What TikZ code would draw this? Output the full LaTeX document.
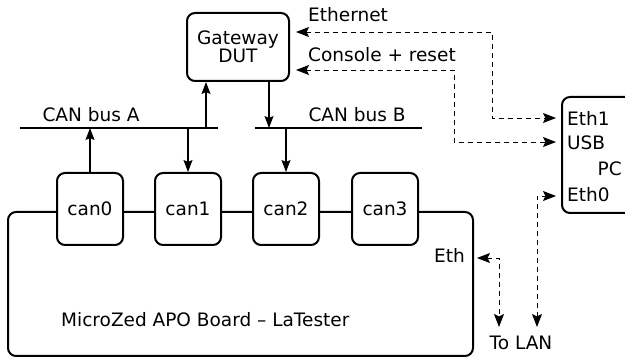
\documentclass[tikz,border=0pt]{standalone}
\usepackage{fontspec}
\setmainfont{DejaVu Sans}
\usetikzlibrary{arrows.meta}
\begin{document}
\begin{tikzpicture}[x=1pt,y=-1pt,
  font=\fontsize{18.5}{18}\selectfont,
  box/.style={draw, line width=2pt, rounded corners=8pt, fill=white, inner sep=0pt},
  canbox/.style={box, minimum width=66pt, minimum height=72pt},
  lbl/.style={inner sep=0pt, anchor=base west},
  bus/.style={line width=1.3pt},
  arr/.style={line width=1.1pt, -{Stealth[length=12pt,width=9pt,inset=2pt]}},
  darr/.style={line width=0.9pt, dash pattern=on 5pt off 4pt,
    {Stealth[length=13pt,width=10pt,inset=2.5pt]}-{Stealth[length=13pt,width=10pt,inset=2.5pt]}}
]
\useasboundingbox (0,0) rectangle (625,358);
\clip (0,0) rectangle (625,358);

% main board
\node[box, minimum width=465pt, minimum height=144pt] (board) at (240.5,284) {};
\node[lbl] (boardlbl) at (61,327) {MicroZed APO Board – LaTester};
\node[inner sep=0pt, anchor=base east] (eth) at (465,263) {Eth};

% CAN boxes
\node[canbox] (can0) at (90,209) {can0};
\node[canbox] (can1) at (188,209) {can1};
\node[canbox] (can2) at (286,209) {can2};
\node[canbox] (can3) at (385,209) {can3};

% gateway
\node[box, minimum width=102pt, minimum height=68pt, align=center] (gw) at (238,47) {Gateway\\DUT};

% PC
\node[box, minimum width=90pt, minimum height=116pt] (pc) at (607,155) {};
\node[lbl] (eth1) at (567,126) {Eth1};
\node[lbl] (usb) at (567,150) {USB};
\node[inner sep=0pt, anchor=base east] (pclbl) at (622,176) {PC};
\node[lbl] (eth0) at (567,202) {Eth0};

% buses
\coordinate (busAl) at (20,128);
\coordinate (busAr) at (218,128);
\coordinate (busBl) at (255,128);
\coordinate (busBr) at (422,128);
\draw[bus] (busAl) -- (busAr);
\draw[bus] (busBl) -- (busBr);
\node[lbl, anchor=base] (busAlbl) at (91,122) {CAN bus A};
\node[lbl, anchor=base] (busBlbl) at (357,122) {CAN bus B};

% CAN arrows
\coordinate (gA) at (206,128);
\coordinate (gB) at (269,128);
\draw[arr] (can0.north) -- (can0.north |- busAl);
\draw[arr] (can1.north |- busAl) -- (can1.north);
\draw[arr] (gA) -- (gA |- gw.south);
\draw[arr] (gB |- gw.south) -- (gB);
\draw[arr] (can2.north |- busBl) -- (can2.north);

% dashed connections
\node[lbl] (ethernet) at (308,22) {Ethernet};
\node[lbl] (console) at (308,62) {Console + reset};
\coordinate (c1) at (492,32);
\coordinate (c2) at (454,70);
\coordinate (c3) at (537,196);
\coordinate (c4) at (499,258);
\coordinate (lan1) at (499,327);
\coordinate (lan2) at (537,327);
\draw[darr, shorten <=6pt, shorten >=5pt] (gw.east |- c1) -- (c1) -- (c1 |- 0,118) -- (pc.west |- 0,118);
\draw[darr, shorten <=6pt, shorten >=5pt] (gw.east |- c2) -- (c2) -- (c2 |- 0,142) -- (pc.west |- 0,142);
\draw[darr, shorten >=5pt] (lan2) -- (c3) -- (pc.west |- c3);
\draw[darr, shorten <=12pt] (eth.east |- c4) -- (c4) -- (lan1);
\node[inner sep=0pt, anchor=base] (tolan) at (521,350) {To LAN};
\end{tikzpicture}
\end{document}
